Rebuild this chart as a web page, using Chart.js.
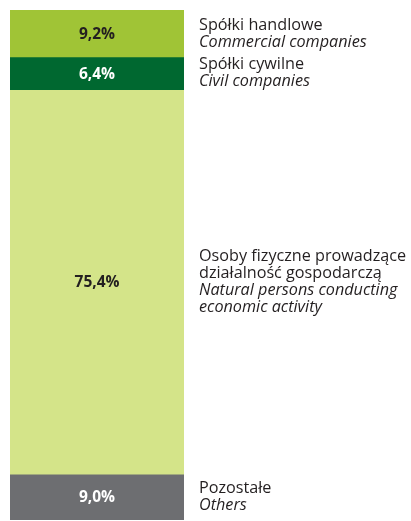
<!DOCTYPE html>
<html>
<head>
<meta charset="utf-8">
<script src="https://cdn.jsdelivr.net/npm/chart.js@4/dist/chart.umd.min.js"></script>
<style>
    html, body { margin: 0; padding: 0; background: #fff; }
    #wrap { width: 411px; height: 521px; position: relative; }
</style>
</head>
<body>
<div id="wrap"><canvas id="chart"></canvas></div>
<script>
    // categories, top to bottom
    var categories = ['Spółki handlowe', 'Spółki cywilne', 'Osoby fizyczne', 'Pozostałe'];
    var shares = [9.2, 6.4, 75.4, 9.0];
    var valueLabels = ['9,2%', '6,4%', '75,4%', '9,0%'];
    var plLabels = [
        ['Spółki handlowe'],
        ['Spółki cywilne'],
        ['Osoby fizyczne prowadzące', 'działalność gospodarczą'],
        ['Pozostałe']
    ];
    var enLabels = [
        ['Commercial companies'],
        ['Civil companies'],
        ['Natural persons conducting', 'economic activity'],
        ['Others']
    ];
    var colors = ['#a0c436', '#006830', '#d4e489', '#6d6e71'];
    var valueColors = ['#231f20', '#ffffff', '#231f20', '#ffffff'];

    var FONT = '"Open Sans", Lato, sans-serif';
    var LINE_H = 17;

    // ── 標籤外掛 ──────────────────────────────────────────────────────────
    var labelPlugin = {
        id: 'segLabels',
        afterDatasetsDraw: function (chart) {
            var ctx = chart.ctx;
            ctx.save();
            chart.data.datasets.forEach(function (ds, i) {
                var bar = chart.getDatasetMeta(i).data[0];
                if (!bar) return;
                var mid = (bar.y + bar.base) / 2;
                var right = bar.x + bar.width / 2;

                ctx.font = 'bold 15.5px ' + FONT;
                ctx.fillStyle = valueColors[i];
                ctx.textAlign = 'center';
                ctx.textBaseline = 'middle';
                ctx.fillText(valueLabels[i], bar.x, mid + 1);

                var lines = [];
                plLabels[i].forEach(function (t) { lines.push({ t: t, it: false }); });
                enLabels[i].forEach(function (t) { lines.push({ t: t, it: true }); });
                var top = mid - lines.length * LINE_H / 2;
                ctx.textAlign = 'left';
                ctx.fillStyle = '#231f20';
                lines.forEach(function (ln, k) {
                    ctx.font = (ln.it ? 'italic ' : '') + '16.2px ' + FONT;
                    ctx.fillText(ln.t, right + 15, top + LINE_H * k + LINE_H / 2);
                });
            });
            ctx.restore();
        }
    };

    new Chart(document.getElementById('chart').getContext('2d'), {
        type: 'bar',
        data: {
            labels: [''],
            datasets: categories.map(function (c, i) {
                return {
                    label: c,
                    data: [shares[i]],
                    backgroundColor: colors[i],
                    borderWidth: 0,
                    barPercentage: 1,
                    categoryPercentage: 1
                };
            })
        },
        options: {
            responsive: true,
            maintainAspectRatio: false,
            animation: false,
            layout: { padding: { left: 10, right: 227, top: 10, bottom: 1 } },
            plugins: { legend: { display: false }, tooltip: { enabled: false } },
            scales: {
                x: { stacked: true, display: false },
                y: { stacked: true, display: false, reverse: true, min: 0, max: 100 }
            }
        },
        plugins: [labelPlugin]
    });
</script>
</body>
</html>
